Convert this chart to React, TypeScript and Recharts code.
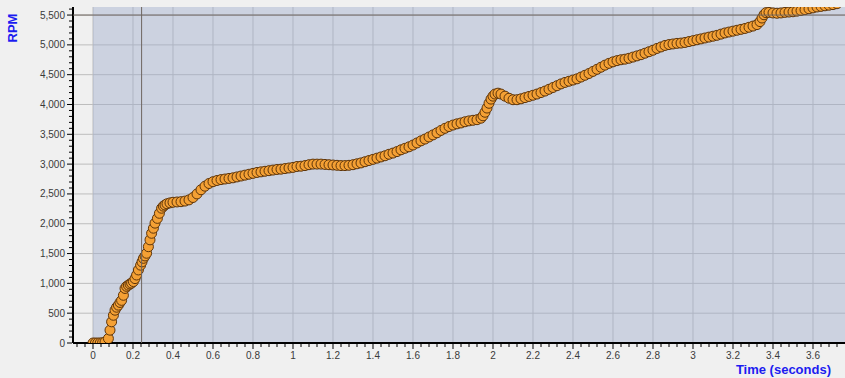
import {
  ScatterChart,
  Scatter,
  XAxis,
  YAxis,
  CartesianGrid,
  ReferenceArea,
  ReferenceLine,
} from "recharts";

// engine speed samples
const timeSec = [
  0, 0.012, 0.024, 0.036, 0.048, 0.06,
  0.077, 0.085, 0.093, 0.102, 0.11, 0.118, 0.127, 0.135, 0.143, 0.152,
  0.16, 0.168, 0.177, 0.185, 0.193, 0.202, 0.21, 0.218, 0.227, 0.238,
  0.245, 0.252, 0.26, 0.268, 0.277, 0.285, 0.293, 0.302, 0.31, 0.322,
  0.332, 0.343, 0.352, 0.36, 0.37, 0.385,
  0.4, 0.42, 0.44, 0.46, 0.48, 0.5, 0.52, 0.54, 0.56, 0.58,
  0.6, 0.62, 0.64, 0.66, 0.68, 0.7, 0.72, 0.74, 0.76, 0.78,
  0.8, 0.82, 0.84, 0.86, 0.88, 0.9, 0.92, 0.94, 0.96, 0.98,
  1.0, 1.02, 1.04, 1.06, 1.08, 1.1, 1.12, 1.14, 1.16, 1.18,
  1.2, 1.22, 1.24, 1.26, 1.28, 1.3, 1.32, 1.34, 1.36, 1.38,
  1.4, 1.42, 1.44, 1.46, 1.48, 1.5, 1.52, 1.54, 1.56, 1.58,
  1.6, 1.62, 1.64, 1.66, 1.68, 1.7, 1.72, 1.74, 1.76, 1.78,
  1.8, 1.82, 1.84, 1.86, 1.88, 1.9, 1.92, 1.94, 1.95, 1.96,
  1.97, 1.98, 1.99, 2.0, 2.01, 2.025, 2.04, 2.06, 2.08, 2.1,
  2.12, 2.14, 2.16, 2.18, 2.2, 2.22, 2.24, 2.26, 2.28, 2.3,
  2.32, 2.34, 2.36, 2.38, 2.4, 2.42, 2.44, 2.46, 2.48, 2.5,
  2.52, 2.54, 2.56, 2.58, 2.6, 2.62, 2.64, 2.66, 2.68, 2.7,
  2.72, 2.74, 2.76, 2.78, 2.8, 2.82, 2.84, 2.86, 2.88, 2.9,
  2.92, 2.94, 2.96, 2.98, 3.0, 3.02, 3.04, 3.06, 3.08, 3.1,
  3.12, 3.14, 3.16, 3.18, 3.2, 3.22, 3.24, 3.26, 3.28, 3.3,
  3.32, 3.335, 3.345, 3.355, 3.365, 3.38, 3.4, 3.42, 3.44, 3.46,
  3.48, 3.5, 3.52, 3.54, 3.56, 3.58, 3.6, 3.62, 3.64, 3.66,
  3.68, 3.7, 3.72,
];

const rpm = [
  0, 0, 0, 0, 5, 15,
  75, 215, 355, 465, 550, 600, 635, 680, 715, 800,
  915, 950, 970, 990, 1005, 1030, 1080, 1140, 1225, 1305,
  1360, 1420, 1460, 1505, 1615, 1730, 1840, 1925, 2010, 2090,
  2175, 2260, 2295, 2315, 2335, 2350,
  2360, 2365, 2370, 2380, 2400, 2440, 2500, 2570, 2630, 2675,
  2705, 2725, 2740, 2750, 2760, 2770, 2785, 2800, 2815, 2830,
  2845, 2860, 2870, 2880, 2890, 2900, 2910, 2915, 2925, 2935,
  2945, 2960, 2965, 2975, 2990, 3000, 3000, 3000, 2995, 2990,
  2985, 2980, 2975, 2975, 2980, 2990, 3005, 3020, 3040, 3060,
  3080, 3100, 3120, 3140, 3165, 3185, 3210, 3240, 3265, 3290,
  3320, 3355, 3390, 3420, 3455, 3490, 3525, 3565, 3600, 3630,
  3655, 3675, 3690, 3710, 3725, 3735, 3745, 3770, 3810, 3870,
  3940, 4020, 4090, 4140, 4175, 4190, 4175, 4140, 4105, 4080,
  4080, 4095, 4115, 4135, 4155, 4175, 4200, 4225, 4255, 4285,
  4315, 4345, 4370, 4390, 4410, 4430, 4460, 4490, 4520, 4555,
  4590, 4625, 4660, 4690, 4715, 4735, 4750, 4760, 4775, 4795,
  4815, 4835, 4860, 4885, 4910, 4940, 4965, 4990, 5005, 5015,
  5025, 5030, 5040, 5055, 5070, 5085, 5100, 5115, 5130, 5145,
  5160, 5180, 5200, 5215, 5230, 5245, 5260, 5275, 5295, 5315,
  5340, 5390, 5450, 5505, 5540, 5545, 5535, 5530, 5535, 5545,
  5550, 5555, 5565, 5575, 5590, 5605, 5620, 5635, 5645, 5655,
  5665, 5675, 5690,
];

const xMajorTicks = [0, 0.2, 0.4, 0.6, 0.8, 1, 1.2, 1.4, 1.6, 1.8, 2, 2.2, 2.4, 2.6, 2.8, 3, 3.2, 3.4, 3.6];
const yMajorTicks = [0, 500, 1000, 1500, 2000, 2500, 3000, 3500, 4000, 4500, 5000, 5500];

const xDomain: [number, number] = [-0.1, 3.76];
const yDomain: [number, number] = [0, 5635];

// cursor position shown in the screenshot
const cursorTime = 0.243;
const cursorRpm = 5500;

// minor ticks: 5 per major on both axes
const xTicks = Array.from({ length: 96 }, (_, i) => +((i - 2) * 0.04).toFixed(2));
const yTicks = Array.from({ length: 57 }, (_, i) => i * 100);

const data = timeSec.map((t, i) => ({ t, rpm: rpm[i] }));

const FONT = '"Liberation Sans", Arial, sans-serif';
const TICK_COLOR = "#3a3a3a";
const LABEL_BLUE = "#1c1cf0";

const isMajor = (v: number, majors: number[]) =>
  majors.some((m) => Math.abs(m - v) < 1e-6);

function TimeTick(props: any) {
  const { x, y, payload } = props;
  const v = payload.value as number;
  const major = isMajor(v, xMajorTicks);
  return (
    <g>
      <line x1={x} x2={x} y1={y + 1} y2={y + (major ? 6 : 4)} stroke="#000" />
      {major && (
        <text x={x} y={y + 15.5} textAnchor="middle" fontSize={10} fontFamily={FONT} fill={TICK_COLOR}>
          {String(Number(v.toFixed(1)))}
        </text>
      )}
    </g>
  );
}

function RpmTick(props: any) {
  const { x, y, payload } = props;
  const v = payload.value as number;
  const major = isMajor(v, yMajorTicks);
  return (
    <g>
      <line x1={x - 1} x2={x - (major ? 6 : 4)} y1={y} y2={y} stroke="#000" />
      {major && (
        <text x={x - 8} y={y + 3.5} textAnchor="end" fontSize={10} fontFamily={FONT} fill={TICK_COLOR}>
          {v.toLocaleString("en-US")}
        </text>
      )}
    </g>
  );
}

function Dot(props: any) {
  const { cx, cy } = props;
  if (cx == null || cy == null) return <g />;
  return <circle cx={cx} cy={cy} r={5} fill="#f4a034" stroke="#5e350a" strokeWidth={1} />;
}

export default function App() {
  return (
    <div
      style={{
        position: "absolute",
        left: 0,
        top: 0,
        width: 845,
        height: 378,
        background: "#f0f0f0",
      }}
    >
      <ScatterChart
        width={845}
        height={378}
        margin={{ top: 7, right: 0, bottom: 0, left: 0 }}
      >
        <CartesianGrid
          stroke="#bdbdbd"
          fill="none"
          horizontalValues={yMajorTicks.slice(1)}
          verticalValues={xMajorTicks}
        />
        <ReferenceArea
          x1={0}
          x2={xDomain[1]}
          y1={yDomain[0]}
          y2={yDomain[1]}
          fill="#9ba9ca"
          fillOpacity={0.425}
          stroke="none"
          ifOverflow="hidden"
          zIndex={-50}
        />
        <XAxis
          type="number"
          dataKey="t"
          domain={xDomain}
          allowDataOverflow
          ticks={xTicks}
          interval={0}
          tickSize={0}
          tickMargin={0}
          tickLine={false}
          tick={<TimeTick />}
          height={35}
          axisLine={{ stroke: "#000", strokeWidth: 2 }}
        />
        <YAxis
          type="number"
          dataKey="rpm"
          domain={yDomain}
          allowDataOverflow
          ticks={yTicks}
          interval={0}
          tickSize={0}
          tickMargin={0}
          tickLine={false}
          tick={<RpmTick />}
          width={73}
          axisLine={{ stroke: "#000", strokeWidth: 2 }}
        />
        <Scatter
          data={data}
          shape={<Dot />}
          isAnimationActive={false}
        />
        <ReferenceLine x={cursorTime} stroke="#6f6660" strokeWidth={1} zIndex={1100} />
        <ReferenceLine y={cursorRpm} stroke="#6f6660" strokeWidth={1} zIndex={1100} />
      </ScatterChart>
      <svg
        width={845}
        height={378}
        style={{ position: "absolute", left: 0, top: 0, pointerEvents: "none" }}
      >
        <text
          x={17}
          y={28}
          transform="rotate(-90, 17, 28)"
          textAnchor="middle"
          fontSize={13}
          fontWeight="bold"
          fontFamily={FONT}
          fill={LABEL_BLUE}
        >
          RPM
        </text>
        <text
          x={831}
          y={374}
          textAnchor="end"
          fontSize={13}
          fontWeight="bold"
          fontFamily={FONT}
          fill={LABEL_BLUE}
        >
          Time (seconds)
        </text>
      </svg>
    </div>
  );
}
